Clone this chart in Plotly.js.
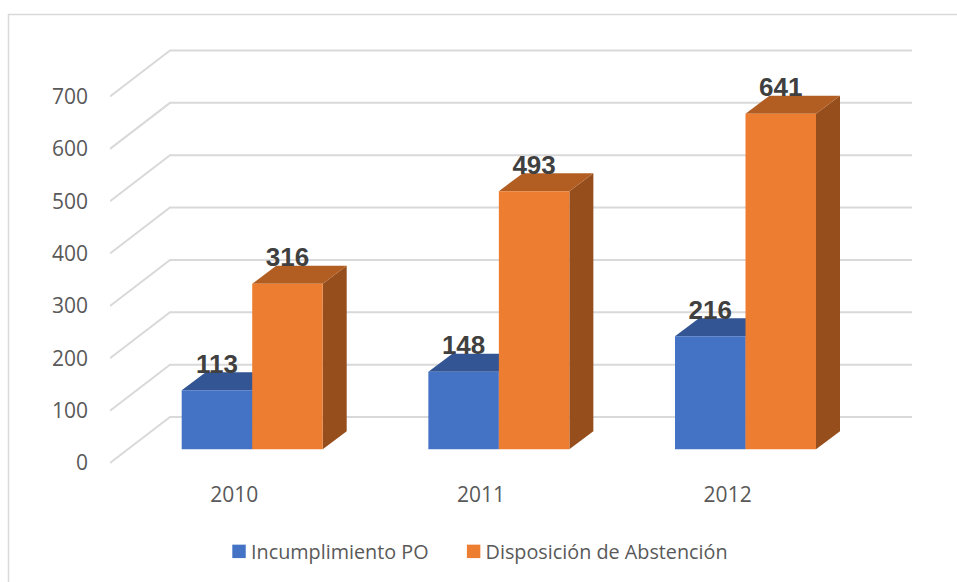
<!DOCTYPE html>
<html><head><meta charset="utf-8">
<script src="https://cdn.plot.ly/plotly-3.0.1.min.js"></script>
<style>html,body{margin:0;padding:0;background:#fff}#chart{width:957px;height:582px}</style>
</head><body><div id="chart"></div>
<script>
const years = ['2010','2011','2012'];
const incumplimiento = [113,148,216];
const disposicion = [316,493,641];
const yTicks = [0,100,200,300,400,500,600,700];
const seriesNames = ['Incumplimiento PO','Disposición de Abstención'];
const colors = {front:['#4472C4','#ED7D31'], top:['#335593','#B25E22'], side:['#2A4A85','#964E1C']};

// pixel geometry of the plot box
const W=957,H=582,L=110,R=915,T=40,B=470;
const catPx=246.65, pxPerUnit=0.5236;
const cats=years.map((_,i)=>i);
const dx=24/catPx, dy=18/pxPerUnit;            // bar depth
const wallDx=60/catPx, wallDy=46/pxPerUnit;    // wall depth
const barW=70.5/catPx;
const wallEnd=(912-L)/catPx-0.5;

const shapes=[];
// outer frame
const px=x=>(x-L)/(R-L), py=y=>(B-y)/(B-T);
shapes.push({type:'path',xref:'paper',yref:'paper',layer:'below',
  path:`M${px(8.5)},${py(582)} L${px(8.5)},${py(14.5)} L${px(957)},${py(14.5)}`,line:{color:'#D9D9D9',width:1.5}});
// wall gridlines
yTicks.forEach(v=>shapes.push({type:'path',xref:'x',yref:'y',layer:'below',
  path:`M-0.5,${v} L${-0.5+wallDx},${v+wallDy} L${wallEnd},${v+wallDy}`,line:{color:'#D9D9D9',width:2}}));
// top and side faces
function faces(vals,s){
  vals.forEach((v,i)=>{
    const x0=i+(s===0?-barW:0), x1=x0+barW;
    shapes.push({type:'path',xref:'x2',yref:'y2',layer:'below',fillcolor:colors.side[s],line:{width:0},
      path:`M${x1},0 L${x1+dx},${dy} L${x1+dx},${v+dy} L${x1},${v} Z`});
    shapes.push({type:'path',xref:'x2',yref:'y2',layer:'below',fillcolor:colors.top[s],line:{width:0},
      path:`M${x0},${v} L${x0+dx},${v+dy} L${x1+dx},${v+dy} L${x1},${v} Z`});
  });
}
faces(incumplimiento,0); faces(disposicion,1);

const labelLift=24/pxPerUnit;
const data=[
 {type:'bar',name:seriesNames[0],x:cats,y:incumplimiento,xaxis:'x2',yaxis:'y2',marker:{color:colors.front[0]},hoverinfo:'x+y'},
 {type:'bar',name:seriesNames[1],x:cats,y:disposicion,xaxis:'x2',yaxis:'y2',marker:{color:colors.front[1]},hoverinfo:'x+y'},
 {type:'scatter',mode:'text',showlegend:false,xaxis:'x2',yaxis:'y2',cliponaxis:false,hoverinfo:'skip',
  x:cats.map(c=>c-barW/2).concat(cats.map(c=>c+barW/2)),
  y:incumplimiento.concat(disposicion).map(v=>v+labelLift),
  text:incumplimiento.concat(disposicion).map(String),
  textposition:'middle center',
  textfont:{family:'Liberation Sans',size:26,color:'#404040',weight:700}}
];
const tickFont={family:'Open Sans',size:21,color:'#595959'};
const layout={
 width:W,height:H,paper_bgcolor:'#fff',plot_bgcolor:'rgba(0,0,0,0)',
 margin:{l:L,r:W-R,t:T,b:H-B,pad:0,autoexpand:false},
 barmode:'group',bargap:1-2*barW,bargroupgap:0,
 showlegend:true,
 legend:{orientation:'h',x:(199-L)/(R-L),xanchor:'left',y:(B-532)/(B-T),yanchor:'top',itemwidth:42,
   font:{family:'Open Sans',size:19.8,color:'#595959'},bgcolor:'rgba(0,0,0,0)',traceorder:'normal'},
 xaxis:{type:'linear',range:[-0.5,(R-L)/catPx-0.5],tickmode:'array',tickvals:cats,ticktext:years,
   showgrid:false,zeroline:false,showline:false,ticks:'',tickfont:tickFont,ticklabelstandoff:10,ticklabelshift:1,fixedrange:true},
 yaxis:{type:'linear',range:[(463-B)/pxPerUnit,(463-T)/pxPerUnit],tickmode:'array',tickvals:yTicks,ticktext:yTicks.map(String),
   showgrid:false,zeroline:false,showline:false,ticks:'',tickfont:tickFont,ticklabelstandoff:21,ticklabelshift:2.5,fixedrange:true},
 xaxis2:{type:'linear',overlaying:'x',range:[(L-252.2)/catPx,(R-252.2)/catPx],visible:false,fixedrange:true},
 yaxis2:{type:'linear',overlaying:'y',range:[(449.3-B)/pxPerUnit,(449.3-T)/pxPerUnit],visible:false,fixedrange:true},
 shapes:shapes
};
Plotly.newPlot('chart',data,layout,{displayModeBar:false,responsive:false}).then(gd=>{
  // legend swatches sit close to their text, and are slightly larger
  gd.querySelectorAll('.legend .traces .legendsymbols').forEach(g=>g.setAttribute('transform','translate(10.9,0) scale(1.12)'));
});
</script></body></html>
